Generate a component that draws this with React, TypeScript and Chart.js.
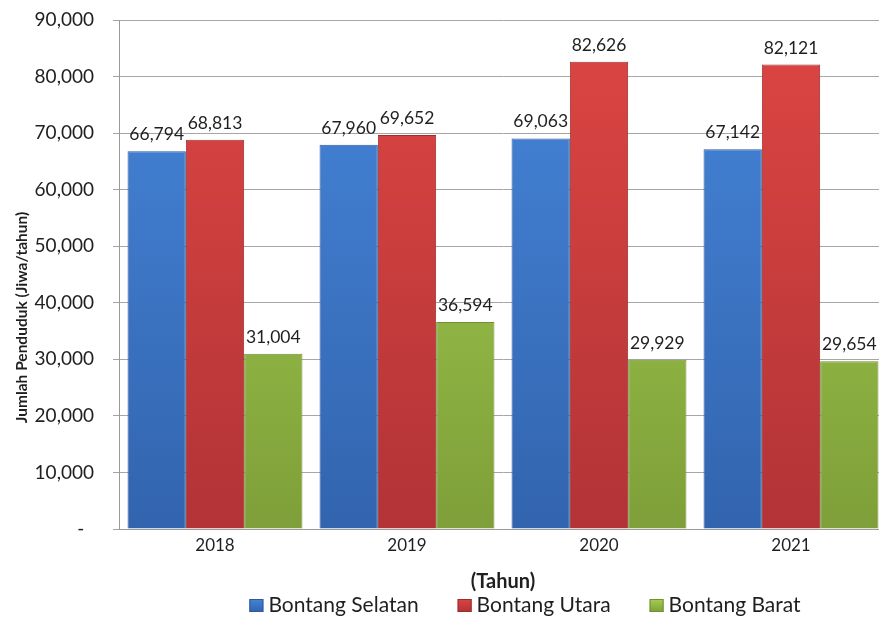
import React, { useEffect, useRef } from "react";
import { Chart, registerables } from "chart.js";

Chart.register(...registerables);

const categories = ["2018", "2019", "2020", "2021"];
const seriesNames = ["Bontang Selatan", "Bontang Utara", "Bontang Barat"];
const selatan = [66794, 67960, 69063, 67142];
const utara = [68813, 69652, 82626, 82121];
const barat = [31004, 36594, 29929, 29654];
const yTicks = [0, 10000, 20000, 30000, 40000, 50000, 60000, 70000, 80000, 90000];
const yTitleText = "Jumlah Penduduk (Jiwa/tahun)";
const xTitleText = "(Tahun)";

const FONT = "Lato, 'Open Sans', sans-serif";
const TEXT = "#1f1f1f";

const palettes = [
  { top: "#4686DA", bottom: "#3264AE", border: "#2C5A9C", legend: "#3C76C8" },
  { top: "#DD4643", bottom: "#B23336", border: "#9E2E2E", legend: "#CC3E3C" },
  { top: "#A8D152", bottom: "#7E9F39", border: "#718F33", legend: "#98C248" },
];

function gradientFor(i: number) {
  return (ctx: any) => {
    const chart = ctx.chart;
    const ca = chart.chartArea;
    if (!ca) return palettes[i].legend;
    const g = chart.ctx.createLinearGradient(0, ca.top, 0, ca.bottom);
    g.addColorStop(0, palettes[i].top);
    g.addColorStop(1, palettes[i].bottom);
    return g;
  };
}

const valueLabels = {
  id: "valueLabels",
  afterDatasetsDraw(chart: any) {
    const ctx = chart.ctx;
    ctx.save();
    ctx.font = `17.5px ${FONT}`;
    ctx.fillStyle = TEXT;
    ctx.textAlign = "center";
    ctx.textBaseline = "alphabetic";
    chart.data.datasets.forEach((ds: any, di: number) => {
      const meta = chart.getDatasetMeta(di);
      meta.data.forEach((bar: any, j: number) => {
        ctx.fillText(Number(ds.data[j]).toLocaleString("en-US"), bar.x, bar.y - 11);
      });
    });
    ctx.restore();
  },
};

const extras = {
  id: "extras",
  afterDraw(chart: any) {
    const ctx = chart.ctx;
    const ca = chart.chartArea;
    // y axis title
    ctx.save();
    ctx.font = `bold 15.5px ${FONT}`;
    ctx.fillStyle = TEXT;
    ctx.textAlign = "center";
    ctx.textBaseline = "middle";
    ctx.translate(22, (ca.top + ca.bottom) / 2 + 43);
    ctx.rotate(-Math.PI / 2);
    ctx.fillText(yTitleText, 0, 0);
    ctx.restore();

    // legend
    ctx.save();
    ctx.font = `21px ${FONT}`;
    ctx.textBaseline = "middle";
    ctx.textAlign = "left";
    const box = 14;
    const boxGap = 5;
    const itemGap = 39;
    const items = chart.data.datasets.map((ds: any) => ds.label as string);
    const widths = items.map((t: string) => box + boxGap + ctx.measureText(t).width);
    const total = widths.reduce((a: number, b: number) => a + b, 0) + itemGap * (items.length - 1);
    let x = (ca.left + ca.right) / 2 + 22 - total / 2;
    const yc = 605;
    items.forEach((t: string, i: number) => {
      const g = ctx.createLinearGradient(0, yc - box / 2, 0, yc + box / 2);
      g.addColorStop(0, palettes[i].top);
      g.addColorStop(1, palettes[i].bottom);
      ctx.fillStyle = g;
      ctx.fillRect(x, yc - box / 2 + 1, box, box - 1);
      ctx.strokeStyle = palettes[i].border;
      ctx.lineWidth = 1;
      ctx.strokeRect(x + 0.5, yc - box / 2 + 1.5, box - 1, box - 2);
      ctx.fillStyle = TEXT;
      ctx.fillText(t, x + box + boxGap, yc);
      x += widths[i] + itemGap;
    });
    ctx.restore();
  },
};

export default function App() {
  const ref = useRef<HTMLCanvasElement | null>(null);
  useEffect(() => {
    document.body.style.margin = "0";
    const data = [selatan, utara, barat];
    const chart = new Chart(ref.current!, {
      type: "bar",
      data: {
        labels: categories,
        datasets: seriesNames.map((name, i) => ({
          label: name,
          data: data[i],
          backgroundColor: gradientFor(i),
          borderColor: palettes[i].border,
          borderWidth: 1,
          borderSkipped: "bottom",
          categoryPercentage: 0.911,
          barPercentage: 1,
        })),
      },
      options: {
        animation: false,
        responsive: false,
        layout: { padding: { top: 20, right: 0, left: 0, bottom: 0 } },
        plugins: {
          tooltip: { enabled: false },
          legend: { display: false },
        },
        scales: {
          x: {
            afterFit: (scale: any) => {
              scale.height = 88;
              scale.paddingLeft = 0;
              scale.paddingRight = 0;
            },
            grid: { display: false, drawTicks: false },
            border: { color: "#9a9a9a" },
            ticks: { font: { family: FONT, size: 17 }, color: TEXT, padding: 6 },
            title: {
              display: true,
              text: xTitleText,
              font: { family: FONT, size: 20, weight: "bold" },
              color: TEXT,
              padding: { top: 4, bottom: 23 },
            },
          },
          y: {
            min: 0,
            max: 90000,
            afterBuildTicks: (scale: any) => {
              scale.ticks = yTicks.map((v) => ({ value: v }));
            },
            afterFit: (scale: any) => {
              scale.width = 119;
              scale.paddingTop = 0;
              scale.paddingBottom = 0;
            },
            grid: { color: "#a6a6a6", tickLength: 6 },
            border: { color: "#9a9a9a" },
            ticks: {
              font: { family: FONT, size: 19 },
              color: TEXT,
              padding: 19,
              callback: (v: any) => (Number(v) === 0 ? "-  " : Number(v).toLocaleString("en-US")),
            },
          },
        },
      },
      plugins: [valueLabels, extras],
    });
    return () => chart.destroy();
  }, []);
  return (
    <div style={{ width: 879, height: 617, overflow: "hidden", background: "#fff" }}>
      <canvas ref={ref} width={887} height={617} style={{ display: "block" }} />
    </div>
  );
}
